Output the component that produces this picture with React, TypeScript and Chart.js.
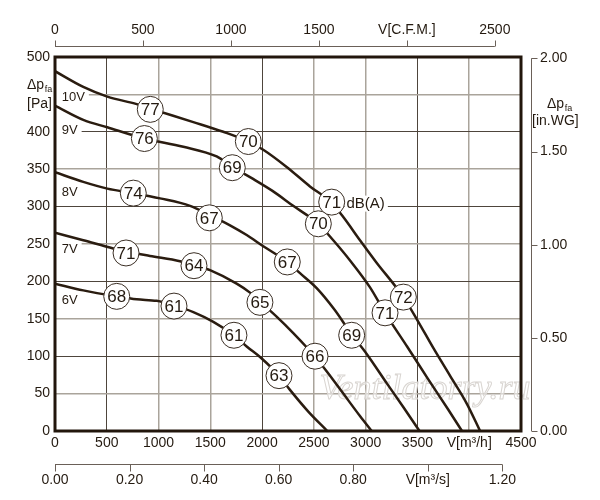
import React, { useEffect, useRef } from 'react';
import { Chart, registerables } from 'chart.js';

Chart.register(...registerables);

// ---------- axis ticks ----------
const FLOW_TICKS = [0, 500, 1000, 1500, 2000, 2500, 3000, 3500, 4000, 4500]; // m³/h
const PRESSURE_TICKS = [0, 50, 100, 150, 200, 250, 300, 350, 400, 450, 500]; // Pa
const CFM_TICKS = [0, 500, 1000, 1500, 2000, 2500];
const M3S_TICKS = [0, 0.2, 0.4, 0.6, 0.8, 1.0, 1.2];
const INWG_TICKS = [0, 0.5, 1.0, 1.5, 2.0];

const FLOW_UNIT_TICK = 4000; // shown as V[m³/h]
const CFM_UNIT_TICK = 2000; // shown as V[C.F.M.]
const M3S_UNIT_TICK = 1.0; // shown as V[m³/s]
const PA_TITLE_TICK = 450; // replaced by Δp_fa [Pa]
const INWG_TITLE_VALUE = 1.75; // Δp_fa [in.WG]

const M3H_PER_CFM = 1.69901;
const M3H_PER_M3S = 3600;
const PA_PER_INWG = 249.089;

const DARK_FLOW_GRID = [500, 2000, 3500];

// ---------- fan curves (flow m³/h, pressure Pa) ----------
const VOLT_LABELS = ['10V', '9V', '8V', '7V', '6V'];
const VOLT_LABEL_FLOW = 65;
const VOLT_LABEL_PRESSURE = [446, 403, 320, 243, 175];

const FLOW_10V = [0, 273, 505, 789, 920, 1336, 1625, 1867, 2011, 2237, 2462, 2672, 2784, 2945, 3100, 3364, 3500, 3653, 3814, 3975, 4105];
const PRESS_10V = [481, 460, 447, 437, 431, 413, 400, 387, 376, 353, 327, 305, 286, 255, 226, 179, 148, 111, 74, 37, 0];

const FLOW_9V = [0, 273, 505, 863, 1239, 1561, 1712, 1900, 2100, 2300, 2543, 2687, 2849, 3042, 3187, 3400, 3600, 3800, 3930];
const PRESS_9V = [435, 416, 406, 391, 380, 367, 353, 338, 321, 301, 277, 255, 228, 192, 158, 113, 70, 28, 0];

const FLOW_8V = [0, 273, 505, 756, 1014, 1304, 1490, 1690, 1851, 2011, 2243, 2366, 2527, 2700, 2865, 3010, 3203, 3363, 3520];
const PRESS_8V = [346, 333, 324, 318, 311, 301, 289, 275, 262, 247, 226, 211, 191, 162, 129, 103, 64, 32, 0];

const FLOW_7V = [0, 273, 563, 686, 917, 1207, 1342, 1497, 1754, 1883, 1979, 2140, 2301, 2430, 2511, 2623, 2784, 2945, 3058];
const PRESS_7V = [265, 255, 244, 240, 234, 227, 222, 215, 197, 185, 173, 153, 131, 112, 99, 80, 50, 20, 0];

const FLOW_6V = [0, 273, 596, 789, 982, 1149, 1336, 1529, 1728, 1851, 1996, 2163, 2269, 2446, 2630];
const PRESS_6V = [197, 188, 180, 176, 174, 168, 159, 146, 128, 113, 97, 74, 55, 26, 0];

// ---------- sound level markers dB(A) ----------
const DB_10V = [77, 70, 71, 72];
const DB_10V_FLOW = [920, 1867, 2672, 3364];
const DB_10V_PRESS = [430, 387, 306, 179];

const DB_9V = [76, 69, 70, 71];
const DB_9V_FLOW = [863, 1712, 2543, 3187];
const DB_9V_PRESS = [391, 352, 277, 158];

const DB_8V = [74, 67, 67, 69];
const DB_8V_FLOW = [756, 1490, 2243, 2865];
const DB_8V_PRESS = [318, 285, 226, 128];

const DB_7V = [71, 64, 65, 66];
const DB_7V_FLOW = [686, 1342, 1979, 2511];
const DB_7V_PRESS = [238, 221, 172, 100];

const DB_6V = [68, 61, 61, 63];
const DB_6V_FLOW = [596, 1149, 1728, 2163];
const DB_6V_PRESS = [180, 167, 128, 74];

const DB_UNIT = 'dB(A)';
const DB_UNIT_FLOW = 2815;
const DB_UNIT_PRESS = 304;

// ---------- styles ----------
const FONT = '"Liberation Sans", Arial, sans-serif';
const INK = '#241a10';
const CURVE = '#2a1c10';
const GRID_DARK = '#4e453c';
const GRID_GRAY = '#aaa49b';
const AXIS2 = '#6a6058';

const zip = (xs: number[], ys: number[]) => xs.map((x, i) => ({ x, y: ys[i] }));

const CURVES = [
  { flow: FLOW_10V, press: PRESS_10V },
  { flow: FLOW_9V, press: PRESS_9V },
  { flow: FLOW_8V, press: PRESS_8V },
  { flow: FLOW_7V, press: PRESS_7V },
  { flow: FLOW_6V, press: PRESS_6V },
];
const MARKERS = [
  { db: DB_10V, flow: DB_10V_FLOW, press: DB_10V_PRESS },
  { db: DB_9V, flow: DB_9V_FLOW, press: DB_9V_PRESS },
  { db: DB_8V, flow: DB_8V_FLOW, press: DB_8V_PRESS },
  { db: DB_7V, flow: DB_7V_FLOW, press: DB_7V_PRESS },
  { db: DB_6V, flow: DB_6V_FLOW, press: DB_6V_PRESS },
];

const fixTicks = (list: number[]) => (scale: any) => {
  scale.ticks = list.map((value) => ({ value }));
};

const drawSubTitle = (ctx: any, x: number, y1: number, y2: number, unit: string, unitX: number) => {
  ctx.font = `14px ${FONT}`;
  ctx.textAlign = 'left';
  ctx.textBaseline = 'alphabetic';
  ctx.fillText('Δp', x, y1);
  const w = ctx.measureText('Δp').width;
  ctx.font = `9px ${FONT}`;
  ctx.fillText('fa', x + w + 0.5, y1 + 3);
  ctx.font = `14px ${FONT}`;
  ctx.fillText(unit, unitX, y2);
};

const decorPlugin = {
  id: 'decor',
  beforeDatasetsDraw(chart: any) {
    const { ctx, chartArea: a, scales } = chart;
    const x = scales.x;
    const y = scales.y;
    ctx.save();
    // watermark
    ctx.font = `italic 36px "Liberation Serif", serif`;
    ctx.textAlign = 'center';
    ctx.textBaseline = 'alphabetic';
    ctx.fillStyle = 'rgba(255,255,255,0.55)';
    ctx.fillText('Ventilatorry.ru', 425, 399);
    ctx.lineWidth = 1;
    ctx.strokeStyle = '#d9d5d1';
    ctx.strokeText('Ventilatorry.ru', 425, 399);

    // voltage labels
    ctx.font = `13px ${FONT}`;
    ctx.textAlign = 'left';
    ctx.textBaseline = 'middle';
    VOLT_LABELS.forEach((t, i) => {
      const px = x.getPixelForValue(VOLT_LABEL_FLOW);
      const py = y.getPixelForValue(VOLT_LABEL_PRESSURE[i]);
      const w = ctx.measureText(t).width;
      ctx.fillStyle = '#fff';
      ctx.fillRect(a.left + 1, py - 7, px - a.left + w + 3, 14);
      ctx.fillStyle = INK;
      ctx.fillText(t, px, py + 0.5);
    });

    // dB(A) unit label
    ctx.font = `15px ${FONT}`;
    const ux = x.getPixelForValue(DB_UNIT_FLOW);
    const uy = y.getPixelForValue(DB_UNIT_PRESS);
    const uw = ctx.measureText(DB_UNIT).width;
    ctx.fillStyle = '#fff';
    ctx.fillRect(ux - 2, uy - 8, uw + 5, 16);
    ctx.fillStyle = INK;
    ctx.fillText(DB_UNIT, ux, uy + 0.5);
    ctx.restore();
  },
  afterDatasetsDraw(chart: any) {
    const { ctx, chartArea: a } = chart;
    ctx.save();
    ctx.font = `17px ${FONT}`;
    ctx.textAlign = 'center';
    ctx.textBaseline = 'middle';
    ctx.fillStyle = INK;
    chart.data.datasets.forEach((ds: any, i: number) => {
      if (!ds.dbValues) return;
      const meta = chart.getDatasetMeta(i);
      meta.data.forEach((el: any, j: number) => {
        ctx.fillText(String(ds.dbValues[j]), el.x, el.y + 1);
      });
    });
    // frame
    ctx.lineWidth = 3;
    ctx.strokeStyle = '#22160c';
    ctx.strokeRect(a.left, a.top, a.right - a.left, a.bottom - a.top);
    ctx.restore();
  },
  afterDraw(chart: any) {
    const { ctx, chartArea: a, scales } = chart;
    ctx.save();
    ctx.strokeStyle = AXIS2;
    ctx.lineWidth = 1;
    // top CFM axis
    const xt = scales.xCfm;
    const ty = a.top - 10.5;
    ctx.beginPath();
    ctx.moveTo(xt.getPixelForValue(CFM_TICKS[0]), ty);
    ctx.lineTo(xt.getPixelForValue(CFM_TICKS[CFM_TICKS.length - 1]), ty);
    CFM_TICKS.forEach((v) => {
      const px = Math.round(xt.getPixelForValue(v)) + 0.5;
      ctx.moveTo(px, ty);
      ctx.lineTo(px, ty - 6);
    });
    ctx.stroke();
    // bottom m³/s axis
    const xs = scales.xM3s;
    const by = a.bottom + 33.5;
    ctx.beginPath();
    ctx.moveTo(xs.getPixelForValue(M3S_TICKS[0]), by);
    ctx.lineTo(xs.getPixelForValue(M3S_TICKS[M3S_TICKS.length - 1]), by);
    M3S_TICKS.forEach((v) => {
      const px = Math.round(xs.getPixelForValue(v)) + 0.5;
      ctx.moveTo(px, by);
      ctx.lineTo(px, by + 7);
    });
    ctx.stroke();
    // right in.WG axis
    const yr = scales.yInwg;
    const rx = a.right + 10.5;
    ctx.beginPath();
    ctx.moveTo(rx, yr.getPixelForValue(INWG_TICKS[0]));
    ctx.lineTo(rx, yr.getPixelForValue(INWG_TICKS[INWG_TICKS.length - 1]));
    INWG_TICKS.forEach((v) => {
      const py = Math.round(yr.getPixelForValue(v)) + 0.5;
      ctx.moveTo(rx, py);
      ctx.lineTo(rx + 6, py);
    });
    ctx.stroke();

    // axis titles
    ctx.fillStyle = INK;
    const ly = scales.y.getPixelForValue(PA_TITLE_TICK);
    drawSubTitle(ctx, a.left - 28, ly - 5.5, ly + 13.5, '[Pa]', a.left - 28);
    const ry = yr.getPixelForValue(INWG_TITLE_VALUE);
    drawSubTitle(ctx, a.right + 26, ry + 3, ry + 20, '[in.WG]', a.right + 11);
    ctx.restore();
  },
};

const tickFont = { family: FONT, size: 14 };

export default function App() {
  const ref = useRef<HTMLCanvasElement | null>(null);

  useEffect(() => {
    if (!ref.current) return;
    const datasets: any[] = [];
    MARKERS.forEach((m) => {
      datasets.push({
        type: 'scatter',
        data: zip(m.flow, m.press),
        dbValues: m.db,
        order: 0,
        pointRadius: 13,
        pointHoverRadius: 13,
        pointBackgroundColor: '#ffffff',
        pointBorderColor: '#3a2e24',
        pointBorderWidth: 1,
        showLine: false,
        clip: false,
      });
    });
    CURVES.forEach((c) => {
      datasets.push({
        type: 'line',
        data: zip(c.flow, c.press),
        order: 1,
        borderColor: CURVE,
        borderWidth: 2.5,
        pointRadius: 0,
        cubicInterpolationMode: 'monotone',
        fill: false,
      });
    });

    const chart = new Chart(ref.current, {
      type: 'line',
      data: { datasets },
      plugins: [decorPlugin],
      options: {
        animation: false,
        responsive: false,
        events: [],
        layout: { padding: 0 },
        plugins: { legend: { display: false }, tooltip: { enabled: false } },
        scales: {
          x: {
            type: 'linear',
            position: 'bottom',
            min: 0,
            max: 4500,
            weight: 0,
            afterBuildTicks: fixTicks(FLOW_TICKS),
            afterFit: (s: any) => { s.height = 30; },
            border: { display: false },
            grid: {
              drawTicks: false,
              color: (c: any) => (DARK_FLOW_GRID.includes(c.tick?.value) ? GRID_DARK : GRID_GRAY),
              lineWidth: (c: any) => (DARK_FLOW_GRID.includes(c.tick?.value) ? 1 : 1.5),
            },
            ticks: {
              autoSkip: false,
              maxRotation: 0,
              padding: 4,
              color: INK,
              font: tickFont,
              callback: (v: any) => (v === FLOW_UNIT_TICK ? 'V[m³/h]' : String(v)),
            },
          },
          xM3s: {
            type: 'linear',
            position: 'bottom',
            min: 0,
            max: 4500 / M3H_PER_M3S,
            weight: 1,
            afterBuildTicks: fixTicks(M3S_TICKS),
            afterFit: (s: any) => { s.height = 39; },
            border: { display: false },
            grid: { display: false, drawTicks: false },
            ticks: {
              autoSkip: false,
              maxRotation: 0,
              padding: 11,
              color: INK,
              font: tickFont,
              callback: (v: any) => (Math.abs(v - M3S_UNIT_TICK) < 1e-9 ? 'V[m³/s]' : Number(v).toFixed(2)),
            },
          },
          xCfm: {
            type: 'linear',
            position: 'top',
            min: 0,
            max: 4500 / M3H_PER_CFM,
            afterBuildTicks: fixTicks(CFM_TICKS),
            afterFit: (s: any) => { s.height = 57; },
            border: { display: false },
            grid: { display: false, drawTicks: false },
            ticks: {
              autoSkip: false,
              maxRotation: 0,
              padding: 18,
              color: INK,
              font: tickFont,
              callback: (v: any) => (v === CFM_UNIT_TICK ? 'V[C.F.M.]' : String(v)),
            },
          },
          y: {
            type: 'linear',
            position: 'left',
            min: 0,
            max: 500,
            afterBuildTicks: fixTicks(PRESSURE_TICKS),
            afterFit: (s: any) => { s.width = 55; },
            border: { display: false },
            grid: {
              drawTicks: false,
              color: (c: any) => (c.tick?.value % 100 === 0 ? GRID_DARK : GRID_GRAY),
              lineWidth: (c: any) => (c.tick?.value % 100 === 0 ? 1 : 1.5),
            },
            ticks: {
              autoSkip: false,
              padding: 5,
              color: INK,
              font: tickFont,
              callback: (v: any) => (v === PA_TITLE_TICK ? '' : String(v)),
            },
          },
          yInwg: {
            type: 'linear',
            position: 'right',
            min: 0,
            max: 500 / PA_PER_INWG,
            afterBuildTicks: fixTicks(INWG_TICKS),
            afterFit: (s: any) => { s.width = 79; },
            border: { display: false },
            grid: { display: false, drawTicks: false },
            ticks: {
              autoSkip: false,
              padding: 19,
              color: INK,
              font: tickFont,
              callback: (v: any) => Number(v).toFixed(2),
            },
          },
        },
      } as any,
    });
    return () => chart.destroy();
  }, []);

  return (
    <div style={{ position: 'fixed', left: 0, top: 0, width: 600, height: 500, background: '#fff' }}>
      <canvas ref={ref} width={600} height={500} style={{ display: 'block', width: 600, height: 500 }} />
    </div>
  );
}
